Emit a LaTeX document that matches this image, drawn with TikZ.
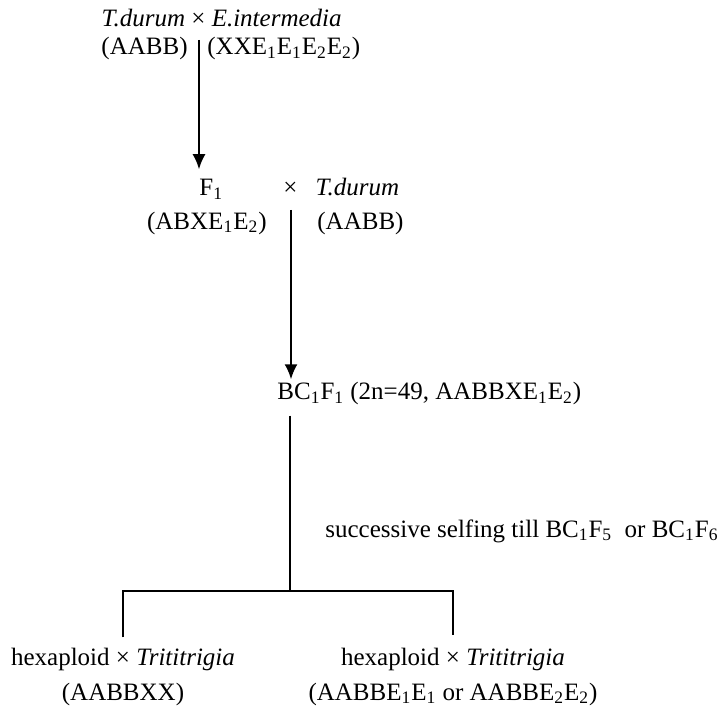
\documentclass[tikz,border=0pt]{standalone}
\usepackage{fontspec}
\setmainfont{Liberation Serif}
\usetikzlibrary{arrows.meta}
\newcommand{\sbs}[1]{\textsubscript{#1}}
\begin{document}
\begin{tikzpicture}[x=0.5pt,y=-0.5pt,
    lbl/.style={inner sep=0pt,font=\fontsize{12.5}{15}\selectfont},
    link/.style={line width=0.9pt},
    arr/.style={link,-{Latex[length=7.5pt,width=6.5pt]}}]
    \useasboundingbox (0,0) rectangle (724,706);
    \node[lbl,anchor=base east] (cross1) at (342,27) {\textit{T.durum} × \textit{E.intermedia}};
    \node[lbl,anchor=base east] (durum1) at (188,55) {(AABB)};
    \node[lbl,anchor=base west] (inter1) at (207,55) {(XXE\sbs{1}E\sbs{1}E\sbs{2}E\sbs{2})};
    \node[lbl,anchor=base west] (fone) at (199,196) {F\sbs{1}};
    \node[lbl,anchor=base west] (cross2) at (283,196) {×\hspace{9pt}\textit{T.durum}};
    \node[lbl,anchor=base east] (fgen) at (267,229) {(ABXE\sbs{1}E\sbs{2})};
    \node[lbl,anchor=base west] (durum2) at (317,229) {(AABB)};
    \node[lbl,anchor=base west] (bcone) at (277,400) {BC\sbs{1}F\sbs{1} (2n=49, AABBXE\sbs{1}E\sbs{2})};
    \node[lbl,anchor=base west] (selfing) at (325,537) {successive selfing till BC\sbs{1}F\sbs{5}\ \ or BC\sbs{1}F\sbs{6}};
    \node[lbl,anchor=base] (hexa1) at (123,665) {hexaploid × \textit{Trititrigia}};
    \node[lbl,anchor=base] (geno1) at (123,700) {(AABBXX)};
    \node[lbl,anchor=base] (hexa2) at (453,665) {hexaploid × \textit{Trititrigia}};
    \node[lbl,anchor=base] (geno2) at (453,700) {(AABBE\sbs{1}E\sbs{1} or AABBE\sbs{2}E\sbs{2})};

    \coordinate (top1) at (199,40);
    \coordinate (top2) at (291,210);
    \coordinate (split) at (290,591);
    \draw[arr,shorten >=5pt] (top1) -- (top1 |- fone.north);
    \draw[arr,shorten >=1.5pt] (top2) -- (top2 |- bcone.north);
    \draw[link] (split |- bcone.south) ++(0,10) -- (split);
    \draw[link] (hexa1.north) ++(0,-10) -- (hexa1.north |- split) -- (hexa2.north |- split) -- ++(0,44);
\end{tikzpicture}
\end{document}
